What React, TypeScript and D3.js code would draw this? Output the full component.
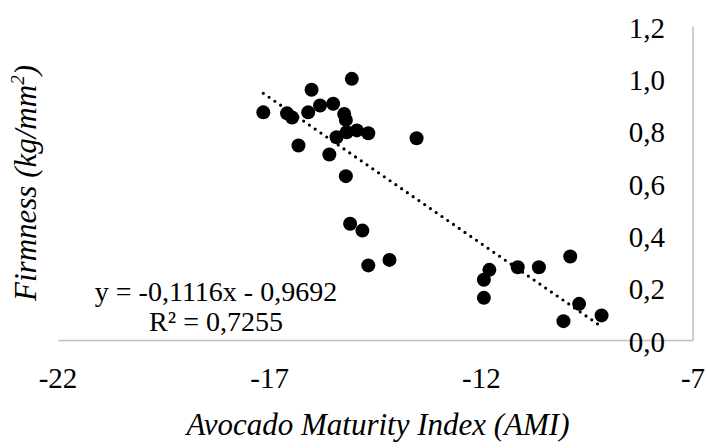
import React from "react";
import * as d3 from "d3";

const amiValues = [
  -17.15, -16.59, -16.47, -16.01, -15.06, -16.09, -15.81, -15.5, -15.24, -15.2,
  -15.42, -15.18, -14.94, -14.67, -16.32, -15.59, -15.2, -15.1, -14.81, -14.67,
  -14.17, -13.53, -11.81, -11.94, -11.94, -11.14, -10.64, -9.9, -9.69, -10.06, -9.16,
];
const firmnessValues = [
  0.872, 0.868, 0.852, 0.958, 1.0, 0.872, 0.898, 0.905, 0.866, 0.843,
  0.777, 0.796, 0.803, 0.792, 0.745, 0.711, 0.628, 0.446, 0.42, 0.287,
  0.308, 0.773, 0.27, 0.232, 0.163, 0.28, 0.28, 0.321, 0.14, 0.074, 0.096,
];
const xTicks = [-22, -17, -12, -7];
const yTicks = [0, 0.2, 0.4, 0.6, 0.8, 1.0, 1.2];
const slope = -0.1116;
const intercept = -0.9692;
const equationLine = "y = -0,1116x - 0,9692";
const r2Line = "R² = 0,7255";
const xTitle = "Avocado Maturity Index (AMI)";

const W = 707;
const H = 448;
const FONT = "Liberation Serif, Times New Roman, serif";

export default function App() {
  const x = d3.scaleLinear().domain([-22, -7]).range([58, 693]);
  const y = d3.scaleLinear().domain([0, 1.2]).range([340.5, 26.5]);
  const fmt = (v: number) => d3.format(".1f")(v).replace(".", ",");

  const points = amiValues.map((a, i) => ({ a, f: firmnessValues[i] }));
  const [xmin, xmax] = d3.extent(amiValues) as [number, number];
  const trend = d3
    .line<number>()
    .x((v) => x(v))
    .y((v) => y(slope * v + intercept));

  return (
    <div style={{ position: "fixed", left: 0, top: 0 }}>
      <svg width={W} height={H} style={{ display: "block", background: "#fff" }}>
        <line x1={x(-22)} x2={x(-7)} y1={y(0)} y2={y(0)} stroke="#bfbfbf" strokeWidth={1.5} />
        <line x1={x(-7)} x2={x(-7)} y1={y(1.2)} y2={y(0)} stroke="#bfbfbf" strokeWidth={1.5} />

        {yTicks.map((t) => (
          <text
            key={"y" + t}
            x={665}
            y={y(t) + 11}
            textAnchor="end"
            fontFamily={FONT}
            fontSize={29}
            fill="#000"
          >
            {fmt(t)}
          </text>
        ))}

        {xTicks.map((t) => (
          <text
            key={"x" + t}
            x={x(t)}
            y={388}
            textAnchor="middle"
            fontFamily={FONT}
            fontSize={29}
            fill="#000"
          >
            {t}
          </text>
        ))}

        {points.map((p, i) => (
          <circle key={i} cx={x(p.a)} cy={y(p.f)} r={7} fill="#000" />
        ))}

        <path
          d={trend([xmin, xmax]) || ""}
          fill="none"
          stroke="#000"
          strokeWidth={3.2}
          strokeLinecap="round"
          strokeDasharray="0 7"
        />

        <text x={216} y={301} textAnchor="middle" fontFamily={FONT} fontSize={28} fill="#000">
          {equationLine}
        </text>
        <text x={216} y={331} textAnchor="middle" fontFamily={FONT} fontSize={28} fill="#000">
          {r2Line}
        </text>

        <text
          x={378}
          y={435}
          textAnchor="middle"
          fontFamily={FONT}
          fontSize={31}
          fontStyle="italic"
          fill="#000"
        >
          {xTitle}
        </text>
        <text
          transform="translate(36,183) rotate(-90)"
          textAnchor="middle"
          fontFamily={FONT}
          fontSize={31}
          fontStyle="italic"
          fill="#000"
        >
          Firmness (kg/mm
          <tspan fontSize={19} dy={-12}>
            2
          </tspan>
          <tspan dy={12}>)</tspan>
        </text>
      </svg>
    </div>
  );
}
